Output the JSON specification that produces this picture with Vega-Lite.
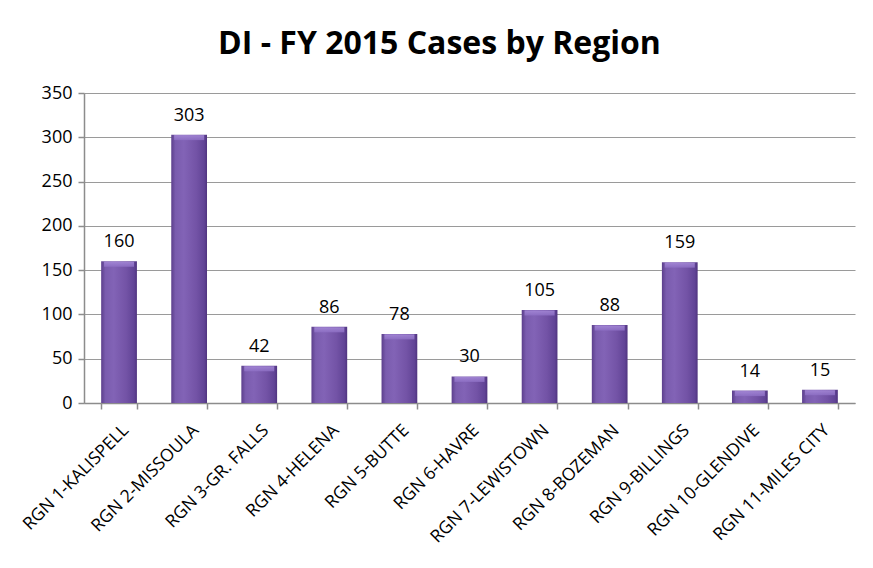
{
  "$schema": "https://vega.github.io/schema/vega-lite/v6.json",
  "width": 771,
  "height": 310,
  "autosize": {"type": "none"},
  "padding": {"left": 84, "top": 93, "right": 18, "bottom": 165},
  "background": "white",
  "title": {
    "text": "DI - FY 2015 Cases by Region",
    "fontSize": 32,
    "font": "Open Sans",
    "fontWeight": "bold",
    "color": "#000000",
    "anchor": "middle",
    "dx": -30,
    "offset": 23
  },
  "config": {
    "view": {"stroke": null},
    "font": "Open Sans"
  },
  "data": {
    "values": [
      {"region": "RGN 1-KALISPELL", "cases": 160},
      {"region": "RGN 2-MISSOULA", "cases": 303},
      {"region": "RGN 3-GR. FALLS", "cases": 42},
      {"region": "RGN 4-HELENA", "cases": 86},
      {"region": "RGN 5-BUTTE", "cases": 78},
      {"region": "RGN 6-HAVRE", "cases": 30},
      {"region": "RGN 7-LEWISTOWN", "cases": 105},
      {"region": "RGN 8-BOZEMAN", "cases": 88},
      {"region": "RGN 9-BILLINGS", "cases": 159},
      {"region": "RGN 10-GLENDIVE", "cases": 14},
      {"region": "RGN 11-MILES CITY", "cases": 15}
    ]
  },
  "encoding": {
    "x": {
      "field": "region",
      "type": "nominal",
      "sort": null,
      "scale": {"paddingInner": 0.49, "paddingOuter": 0.245},
      "axis": {
        "title": null,
        "labelAngle": -45,
        "labelAlign": "right",
        "labelBaseline": "top",
        "labelFontSize": 17.5,
        "labelColor": "#000000",
        "labelPadding": 12,
        "labelDx": 3,
        "labelOverlap": false,
        "tickBand": "extent",
        "tickSize": 6,
        "tickColor": "#8c8c8c",
        "tickWidth": 1.5,
        "domainColor": "#8c8c8c",
        "domainWidth": 1.5,
        "grid": false
      }
    },
    "y": {
      "field": "cases",
      "type": "quantitative",
      "scale": {"domain": [0, 350], "nice": false},
      "axis": {
        "title": null,
        "values": [0, 50, 100, 150, 200, 250, 300, 350],
        "labelFontSize": 18,
        "labelColor": "#000000",
        "labelPadding": 6,
        "tickSize": 6,
        "tickColor": "#8c8c8c",
        "tickWidth": 1.5,
        "domainColor": "#8c8c8c",
        "domainWidth": 1.5,
        "grid": true,
        "gridColor": "#9a9a9a",
        "gridWidth": 1.2
      }
    }
  },
  "layer": [
    {
      "mark": {
        "type": "bar",
        "color": {
          "gradient": "linear",
          "x1": 0, "x2": 1, "y1": 0, "y2": 0,
          "stops": [
            {"offset": 0, "color": "#5c3f8c"},
            {"offset": 0.12, "color": "#7a5cae"},
            {"offset": 0.35, "color": "#8263b6"},
            {"offset": 0.7, "color": "#7353a6"},
            {"offset": 0.92, "color": "#614496"},
            {"offset": 1, "color": "#50347f"}
          ]
        }
      }
    },
    {
      "mark": {
        "type": "tick",
        "orient": "horizontal",
        "thickness": 5,
        "size": 30,
        "yOffset": 3,
        "opacity": 0.85,
        "color": {
          "gradient": "linear",
          "x1": 0, "x2": 0, "y1": 0, "y2": 1,
          "stops": [
            {"offset": 0, "color": "#a68ad8"},
            {"offset": 1, "color": "#8d6fc4"}
          ]
        }
      }
    },
    {
      "mark": {
        "type": "text",
        "baseline": "bottom",
        "dy": -10,
        "fontSize": 18,
        "color": "#000000"
      },
      "encoding": {"text": {"field": "cases", "type": "quantitative"}}
    }
  ]
}
